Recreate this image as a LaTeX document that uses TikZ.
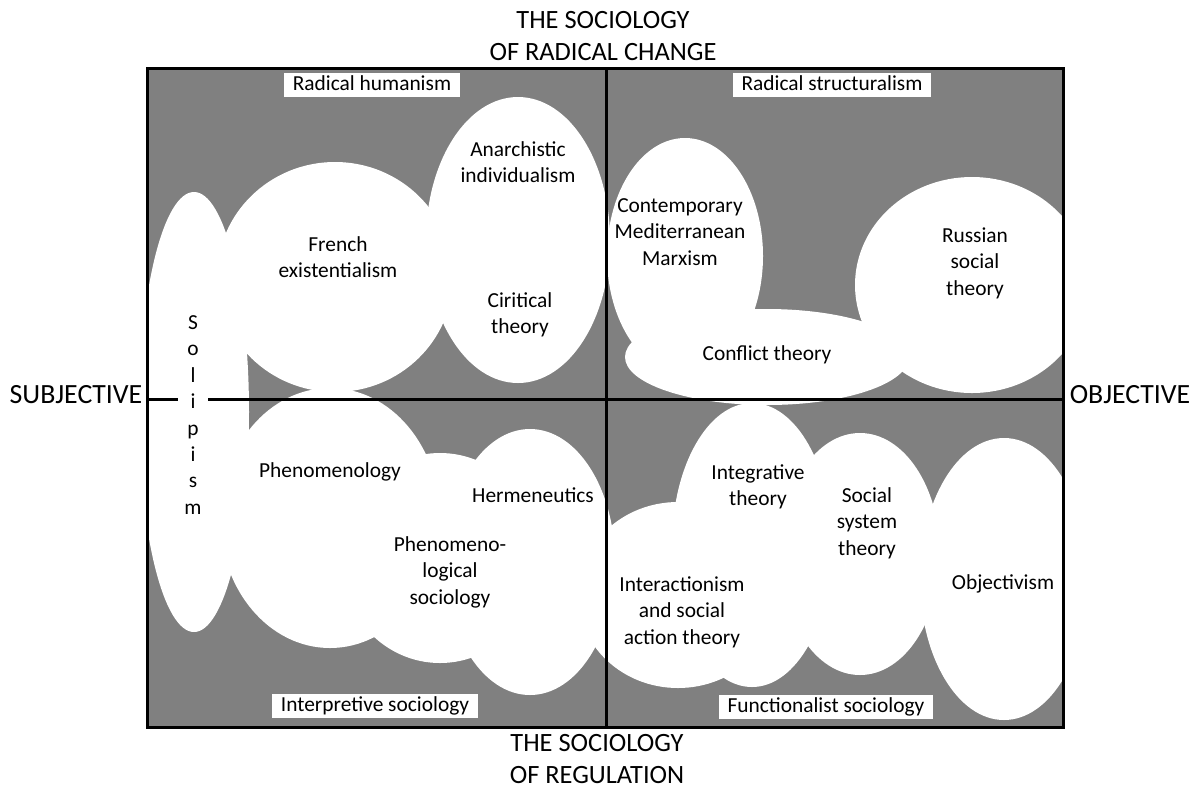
\documentclass[tikz,border=0pt]{standalone}
\usepackage{fontspec}
\setmainfont{Carlito}
\definecolor{fieldgray}{RGB}{128,128,128}
\begin{document}
\begin{tikzpicture}[x=0.5pt,y=-0.5pt,
  topic/.style={font=\fontsize{10.7}{13.2}\selectfont, align=center, inner sep=0pt},
  quadlabel/.style={fill=white, font=\fontsize{10.7}{13.2}\selectfont,
    text height=8pt, text depth=2.5pt, inner xsep=4.5pt, inner ysep=0.75pt},
  axislabel/.style={font=\fontsize{13.2}{16}\selectfont, align=center, inner sep=0pt},
  sidelabel/.style={font=\fontsize{13.9}{16}\selectfont, inner sep=0pt},
  blob/.style={fill=white},
  frameline/.style={line width=1.5pt}]
\useasboundingbox (0,0) rectangle (1194,789);

% corners of the field and ends of the two axes
\coordinate (tl) at (147,68.5);
\coordinate (br) at (1063,727.5);
\coordinate (vtop) at (606,68.5);
\coordinate (vbot) at (606,727.5);
\coordinate (hleft) at (147,399);
\coordinate (hright) at (1063,399);

% grey field
\fill[fieldgray] (tl) rectangle (br);

% white clouds of the schools of thought
\begin{scope}
  \clip (tl) rectangle (br);
  % radical humanism
  \fill[blob] (194,412) ellipse [x radius=55, y radius=220];
  \fill[blob] (335,277) ellipse [x radius=118, y radius=115];
  \fill[blob] (518,240) ellipse [x radius=92, y radius=143];
  % radical structuralism
  \fill[blob] (685,256) ellipse [x radius=78, y radius=118];
  \fill[blob] (767,357) ellipse [x radius=142, y radius=48];
  \fill[blob] (972,285) ellipse [x radius=117, y radius=108];
  % interpretive sociology
  \fill[blob] (330,518) ellipse [x radius=110, y radius=130];
  \fill[blob] (440,558) ellipse [x radius=100, y radius=105];
  \fill[blob] (530,562) ellipse [x radius=85, y radius=133];
  % functionalist sociology
  \fill[blob] (678,595) ellipse [x radius=100, y radius=93];
  \fill[blob] (752,545) ellipse [x radius=80, y radius=142];
  \fill[blob] (860,554) ellipse [x radius=80, y radius=121];
  \fill[blob] (1004,579) ellipse [x radius=84, y radius=141];
\end{scope}

% frame and axes
\draw[frameline] (tl) rectangle (br);
\draw[frameline] (vtop) -- (vbot);
\draw[frameline] (hleft) -- (hright);

% quadrant names
\node[quadlabel] (rh) at (372,85) {Radical humanism};
\node[quadlabel] (rs) at (832,85) {Radical structuralism};
\node[quadlabel] (is) at (375,706) {Interpretive sociology};
\node[quadlabel] (fs) at (826,707) {Functionalist sociology};

% schools
\node[topic] (anarch) at (518,162) {Anarchistic\\individualism};
\node[topic] (french) at (338,257) {French\\existentialism};
\node[topic] (crit) at (520,315) {Ciritical\\theory};
\node[topic] (cmm) at (680,232) {Contemporary\\Mediterranean\\Marxism};
\node[topic] (russ) at (975,263) {Russian\\social\\theory};
\node[topic] (confl) at (767,355) {Conflict theory};
\node[topic] (phen) at (330,472) {Phenomenology};
\node[topic] (herm) at (533,495) {Hermeneutics};
\node[topic] (phsoc) at (450,572) {Phenomeno-\\logical\\sociology};
\node[topic] (integ) at (758,487) {Integrative\\theory};
\node[topic] (socsys) at (867,523) {Social\\system\\theory};
\node[topic] (obj) at (1003,584) {Objectivism};
\node[topic] (inter) at (682,612) {Interactionism\\and social\\action theory};
\node[topic, fill=white, inner xsep=3pt] (sol) at (193,415) {S\\o\\l\\i\\p\\i\\s\\m};

% axis names
\node[axislabel] (radical) at (603,36.5) {THE SOCIOLOGY\\OF RADICAL CHANGE};
\node[axislabel] (regul) at (597,759) {THE SOCIOLOGY\\OF REGULATION};
\node[sidelabel] (subj) at (76,395) {SUBJECTIVE};
\node[sidelabel] (objv) at (1130,395) {OBJECTIVE};
\end{tikzpicture}
\end{document}
